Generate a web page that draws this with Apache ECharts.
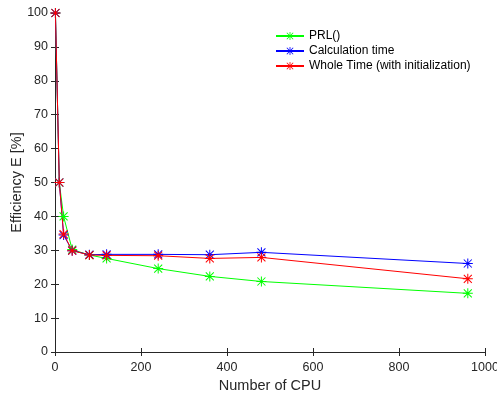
<!DOCTYPE html>
<html><head><meta charset="utf-8">
<script src="https://cdn.jsdelivr.net/npm/echarts@6/dist/echarts.min.js"></script>
<style>html,body{margin:0;padding:0;background:#fff}#c{width:497px;height:394px}</style>
</head><body><div id="c"></div>
<script>
const cpus = [1, 10, 20, 40, 80, 120, 240, 360, 480, 960];
const prl = [100, 50, 40, 30.2, 28.6, 27.6, 24.6, 22.3, 20.8, 17.3];
const calcTime = [100, 50, 34.5, 29.9, 28.7, 28.8, 28.8, 28.7, 29.4, 26.1];
const wholeTime = [100, 50, 34.8, 29.9, 28.6, 28.5, 28.4, 27.6, 27.9, 21.6];
const seriesNames = ['PRL()', 'Calculation time', 'Whole Time (with initialization)'];
const colors = ['#00ff00', '#0000ff', '#ff0000'];

const star = 'path://M4.5 0 L5.5 0 L5.5 10 L4.5 10 Z M0 4.5 L10 4.5 L10 5.5 L0 5.5 Z M1.35 0.65 L9.35 8.65 L8.65 9.35 L0.65 1.35 Z M8.65 0.65 L9.35 1.35 L1.35 9.35 L0.65 8.65 Z';
const font = 'Liberation Sans, Arial, sans-serif';
const axColor = '#262626';

function mk(name, vals, color) {
  return {
    name: name, type: 'line', data: cpus.map((x, i) => [x, vals[i]]),
    symbol: star, symbolSize: 10, showSymbol: true,
    lineStyle: {color: color, width: 1}, itemStyle: {color: color},
    emphasis: {disabled: true}, animation: false
  };
}
const chart = echarts.init(document.getElementById('c'));
const baseAxisLine = {show: true, lineStyle: {color: axColor, width: 1}};
chart.setOption({
  animation: false,
  grid: {left: 55, right: 12, top: 13, bottom: 42, containLabel: false, outerBoundsMode: 'none'},
  legend: {
    orient: 'vertical', left: 270, top: 25, itemGap: 3, itemWidth: 28, itemHeight: 10,
    data: seriesNames, textStyle: {fontFamily: font, fontSize: 12, color: '#000'}
  },
  xAxis: [{
    type: 'value', min: 0, max: 1000, interval: 200,
    name: 'Number of CPU', nameLocation: 'middle', nameGap: 25,
    nameTextStyle: {fontFamily: font, fontSize: 14.5, color: '#262626'},
    axisLine: baseAxisLine, axisTick: {show: true, inside: true, length: 4, lineStyle: {color: axColor}},
    axisLabel: {fontFamily: font, fontSize: 12.5, color: '#262626', margin: 9, formatter: v => String(v)},
    splitLine: {show: false}
  }, {
    type: 'value', position: 'top', min: 0, max: 1000, interval: 200,
    axisLine: baseAxisLine, axisTick: {show: true, inside: true, length: 4, lineStyle: {color: axColor}},
    axisLabel: {show: false}, splitLine: {show: false}
  }],
  yAxis: [{
    type: 'value', min: 0, max: 100, interval: 10,
    name: 'Efficiency E [%]', nameLocation: 'middle', nameGap: 31, nameMoveOverlap: false,
    nameTextStyle: {fontFamily: font, fontSize: 14.5, color: '#262626'},
    axisLine: baseAxisLine, axisTick: {show: true, inside: true, length: 4, lineStyle: {color: axColor}},
    axisLabel: {fontFamily: font, fontSize: 12.5, color: '#262626', margin: 7},
    splitLine: {show: false}
  }, {
    type: 'value', position: 'right', min: 0, max: 100, interval: 10,
    axisLine: baseAxisLine, axisTick: {show: true, inside: true, length: 4, lineStyle: {color: axColor}},
    axisLabel: {show: false}, splitLine: {show: false}
  }],
  series: [mk(seriesNames[0], prl, colors[0]), mk(seriesNames[1], calcTime, colors[1]), mk(seriesNames[2], wholeTime, colors[2])]
});
</script></body></html>
